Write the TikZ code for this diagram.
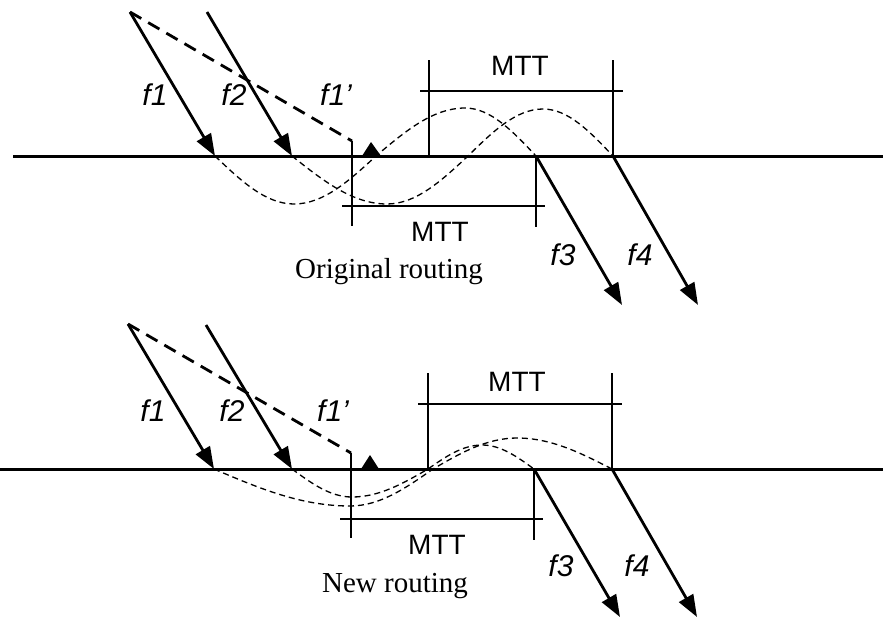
\documentclass[tikz,border=0pt]{standalone}
\usepackage{fontspec}
\setmainfont{Liberation Serif}
\setsansfont{Liberation Sans}
\usetikzlibrary{arrows.meta}
\begin{document}
\begin{tikzpicture}[x=1pt,y=-1pt,
  base/.style={line width=3pt},
  flow/.style={line width=2.8pt,-{Triangle[length=22pt,width=16pt]}},
  alt/.style={line width=2.8pt,dash pattern=on 13pt off 8pt},
  wave/.style={line width=1.3pt,dash pattern=on 6pt off 4pt},
  dimline/.style={line width=1.3pt},
  lbl/.style={font=\fontsize{30}{30}\selectfont\sffamily\itshape, inner sep=0pt},
  mtt/.style={font=\fontsize{28}{28}\selectfont\sffamily, inner sep=0pt},
  capt/.style={font=\fontsize{29}{29}\selectfont\rmfamily, inner sep=0pt, anchor=base},
  tipmark/.style={fill=black}
]
\useasboundingbox (0,0) rectangle (883,619);

% ---------------- Top panel: original routing ----------------
\coordinate (tL) at (13,156);
\coordinate (tR) at (883,156);
\coordinate (ts1) at (130,12);
\coordinate (te1) at (215,156);
\coordinate (ts2) at (207,12);
\coordinate (te2) at (292,156);
\coordinate (tp) at (352,141);
\coordinate (tpb) at (352,226);
\coordinate (ts3) at (536,156);
\coordinate (te3) at (622,305);
\coordinate (ts4) at (613,156);
\coordinate (te4) at (698,305);

\draw[base] (tL) -- (tR);
% waves
\draw[wave] (te1) sin (294,204) cos (376,156) sin (465,108) cos (ts3);
\draw[wave] (te2) sin (387,204) cos (468,156) sin (543,109) cos (ts4);
% flows
\draw[flow] (ts1) -- (te1);
\draw[flow] (ts2) -- (te2);
\draw[alt] (ts1) -- (tp);
\draw[flow] (ts3) -- (te3);
\draw[flow] (ts4) -- (te4);
\fill[tipmark] (362,156) -- (381,156) -- (371,142) -- cycle;
% dimension lines
\draw[dimline] (tp) -- (tpb);
\draw[dimline] (342,206) -- (545,206);
\draw[dimline] (ts3) -- (536,227);
\draw[dimline] (420,91) -- (623,91);
\draw[dimline] (429,60) -- (429,156);
\draw[dimline] (613,60) -- (ts4);
% labels
\node[lbl] (tf1) at (155,95) {f1};
\node[lbl] (tf2) at (234,95) {f2};
\node[lbl] (tf1p) at (336,95) {f1’};
\node[lbl] (tf3) at (563,255) {f3};
\node[lbl] (tf4) at (640,255) {f4};
\node[mtt] (tm1) at (520,66) {MTT};
\node[mtt] (tm2) at (440,232) {MTT};
\node[capt] (tcap) at (389,278) {Original routing};

% ---------------- Bottom panel: new routing ----------------
\coordinate (bL) at (0,469);
\coordinate (bR) at (883,469);
\coordinate (bs1) at (128,324);
\coordinate (be1) at (214,469);
\coordinate (bs2) at (206,325);
\coordinate (be2) at (292,469);
\coordinate (bp) at (351,453);
\coordinate (bpb) at (351,538);
\coordinate (bs3) at (534,469);
\coordinate (be3) at (620,617);
\coordinate (bs4) at (612,469);
\coordinate (be4) at (697,617);

\draw[base] (bL) -- (bR);
% waves
\draw[wave] (be1) sin (350,506) cos (433,469) sin (517,438) cos (bs4);
\draw[wave] (be2) sin (352,497) cos (428,469) sin (482,445) cos (bs3);
% flows
\draw[flow] (bs1) -- (be1);
\draw[flow] (bs2) -- (be2);
\draw[alt] (bs1) -- (bp);
\draw[flow] (bs3) -- (be3);
\draw[flow] (bs4) -- (be4);
\fill[tipmark] (361,469) -- (379,469) -- (370,455) -- cycle;
% dimension lines
\draw[dimline] (bp) -- (bpb);
\draw[dimline] (340,519) -- (543,519);
\draw[dimline] (bs3) -- (534,540);
\draw[dimline] (418,404) -- (622,404);
\draw[dimline] (428,373) -- (428,469);
\draw[dimline] (612,373) -- (bs4);
% labels
\node[lbl] (bf1) at (153,411) {f1};
\node[lbl] (bf2) at (232,411) {f2};
\node[lbl] (bf1p) at (333,411) {f1’};
\node[lbl] (bf3) at (561,566) {f3};
\node[lbl] (bf4) at (637,566) {f4};
\node[mtt] (bm1) at (517,382) {MTT};
\node[mtt] (bm2) at (437,545) {MTT};
\node[capt] (bcap) at (395,592) {New routing};
\end{tikzpicture}
\end{document}
